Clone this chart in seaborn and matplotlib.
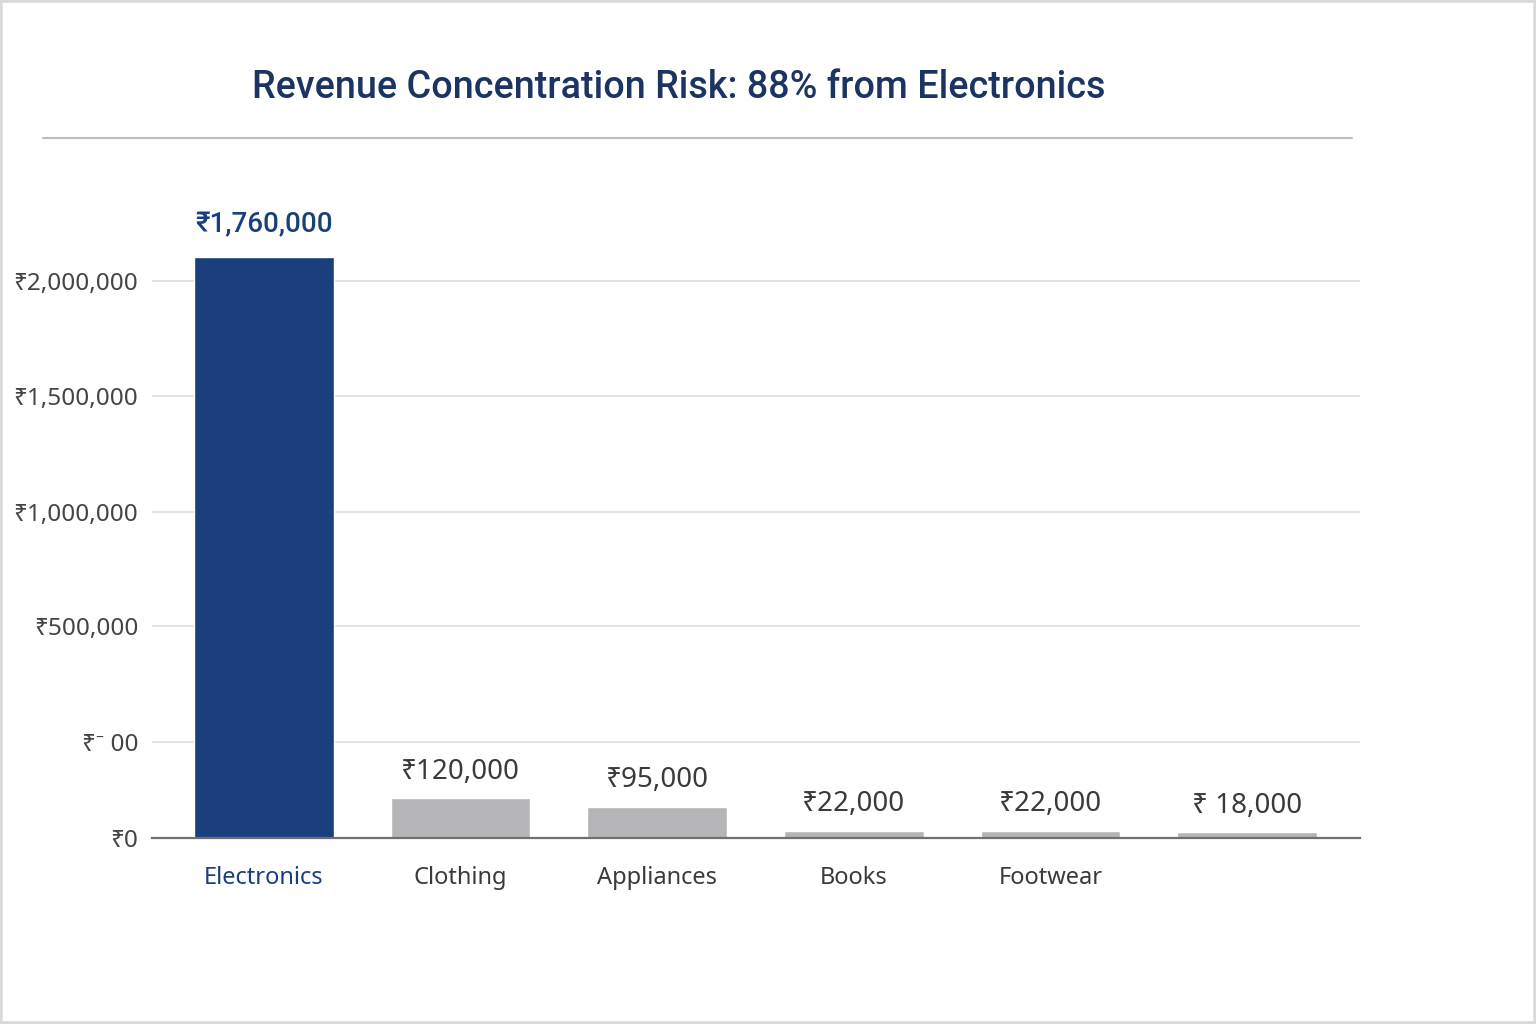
import matplotlib
matplotlib.use('Agg')
import matplotlib.pyplot as plt
from matplotlib.lines import Line2D
from matplotlib.patches import Rectangle
import seaborn as sns

# data
categories = ['Electronics', 'Clothing', 'Appliances', 'Books', 'Footwear', 'Other']
xtick_labels = ['Electronics', 'Clothing', 'Appliances', 'Books', 'Footwear', '']
revenue = [1760000, 120000, 95000, 22000, 22000, 18000]
value_labels = ['₹1,760,000', '₹120,000', '₹95,000', '₹22,000', '₹22,000', '₹ 18,000']
# y ticks as they sit in the picture (the reference axis is not to scale)
ytick_vals = [0, 291000, 642000, 988000, 1339000, 1687000]
ytick_labels = ['₹0', '₹⁻ 00', '₹500,000', '₹1,000,000', '₹1,500,000', '₹2,000,000']

NAVY = '#1a3f7d'
GREY_BAR = '#b5b5b7'
TITLE_C = '#1b3461'
TEXT_C = '#3a3a3a'

sns.set_style('white')
plt.rcParams['font.family'] = ['Noto Sans', 'DejaVu Sans']

fig = plt.figure(figsize=(15.36, 10.24), dpi=100)
ax = fig.add_axes([152 / 1536, (1024 - 838) / 1024, (1360 - 152) / 1536, (838 - 150) / 1024])

colors = [NAVY] + [GREY_BAR] * (len(categories) - 1)
sns.barplot(x=categories, y=revenue, hue=categories, palette=colors, width=0.71,
            saturation=1, legend=False, ax=ax, zorder=3)

ax.set_xlim(-0.57, 5.575)
ax.set_ylim(0, 2085000)

# gridlines + y labels
ax.set_yticks(ytick_vals)
ax.set_yticklabels(ytick_labels, fontsize=17.5, color='#444444')
ax.grid(axis='y', color='#e2e2e2', lw=1.3)
ax.set_axisbelow(True)
ax.tick_params(axis='y', length=0, pad=10)

ax.set_xticks(range(len(categories)))
ax.set_xticklabels(xtick_labels, fontsize=17)
ax.tick_params(axis='x', length=0, pad=20)
for i, lab in enumerate(ax.get_xticklabels()):
  lab.set_color(NAVY if i == 0 else TEXT_C)

ax.set_xlabel('')
ax.set_ylabel('')
for s in ['top', 'right', 'left']:
  ax.spines[s].set_visible(False)
ax.spines['bottom'].set_color('#707070')
ax.spines['bottom'].set_linewidth(1.6)
ax.spines['bottom'].set_zorder(4)

# value labels above bars
for i, (v, txt) in enumerate(zip(revenue, value_labels)):
  if i == 0:
    ax.annotate(txt, (i, v), xytext=(0, 23), textcoords='offset points',
                ha='center', va='center', fontsize=20, color=NAVY,
                fontweight='medium', family=['Roboto', 'Noto Sans', 'DejaVu Sans'])
  else:
    ax.annotate(txt, (i, v), xytext=(0, 19), textcoords='offset points',
                ha='center', va='center', fontsize=20, color=TEXT_C)

# title and rule under it
fig.text(679 / 1536, 1 - 88 / 1024, 'Revenue Concentration Risk: 88% from Electronics',
         ha='center', va='center', fontsize=27.2, color=TITLE_C, fontweight='medium',
         family=['Roboto', 'Noto Sans', 'DejaVu Sans'])
fig.add_artist(Line2D([43 / 1536, 1352 / 1536], [1 - 138 / 1024] * 2, color='#bdbdbd', lw=1.5))

# light frame round the picture
fig.add_artist(Rectangle((0, 0), 1, 1, transform=fig.transFigure, fill=False,
                         edgecolor='#dadada', lw=4))

fig.savefig('out.png', dpi=100)
